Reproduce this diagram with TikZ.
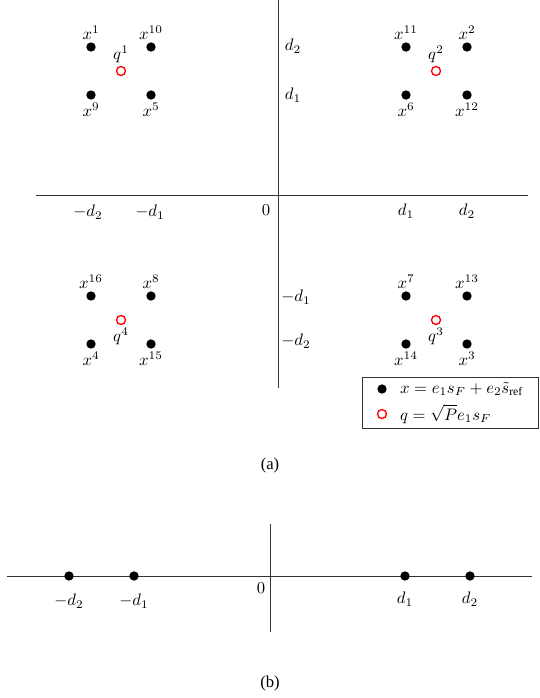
\documentclass[tikz,border=0pt]{standalone}
\usepackage{fontspec}
\setmainfont{Liberation Serif}
\usetikzlibrary{positioning}
\tikzset{
dot/.style={circle, fill=black, inner sep=0pt, minimum size=5.6pt},
refpt/.style={circle, draw=red, line width=0.8pt, inner sep=0pt, minimum size=5.4pt},
axis/.style={draw=black!80, line width=0.55pt},
lbl/.style={inner sep=1pt},
legendbox/.style={draw=black!80, line width=0.5pt},
legtext/.style={anchor=west, inner sep=1pt},
caption/.style={font=\rmfamily\fontsize{10}{12}\selectfont}
}

\begin{document}
\begin{tikzpicture}[x=0.6pt, y=-0.6pt, label distance=0.5pt]
\useasboundingbox (0,0) rectangle (539,698);
% (a) axes
\coordinate (hl) at (36,195);
\coordinate (hr) at (528,195);
\coordinate (vt) at (278,0);
\coordinate (vb) at (278,388);
\draw[axis] (hl) -- (hr);
\draw[axis] (vt) -- (vb);
\node (mdtwo) at (88,212) {$-d_2$};
\node (mdone) at (150,212) {$-d_1$};
\node (zero) at (266,210) {$0$};
\node (done) at (406,211) {$d_1$};
\node (dtwo) at (467,211) {$d_2$};
\node (vdtwo) at (293,46) {$d_2$};
\node (vdone) at (293,95) {$d_1$};
\node (vmdone) at (296,297) {$-d_1$};
\node (vmdtwo) at (296,341) {$-d_2$};
% top left
\node[dot, label={[lbl]above:$x^{1}$}] (x1) at (91,47) {};
\node[dot, label={[lbl]above:$x^{10}$}] (x10) at (151,47) {};
\node[dot, label={[lbl]below:$x^{9}$}] (x9) at (91,95) {};
\node[dot, label={[lbl]below:$x^{5}$}] (x5) at (151,95) {};
\node[refpt, label={[lbl]above:$q^{1}$}] (q1) at (121,71) {};
% top right
\node[dot, label={[lbl]above:$x^{11}$}] (x11) at (406,47) {};
\node[dot, label={[lbl]above:$x^{2}$}] (x2) at (467,47) {};
\node[dot, label={[lbl]below:$x^{6}$}] (x6) at (406,95) {};
\node[dot, label={[lbl]below:$x^{12}$}] (x12) at (467,95) {};
\node[refpt, label={[lbl]above:$q^{2}$}] (q2) at (436,71) {};
% bottom left
\node[dot, label={[lbl]above:$x^{16}$}] (x16) at (91,296) {};
\node[dot, label={[lbl]above:$x^{8}$}] (x8) at (151,296) {};
\node[dot, label={[lbl]below:$x^{4}$}] (x4) at (91,344) {};
\node[dot, label={[lbl]below:$x^{15}$}] (x15) at (151,344) {};
\node[refpt, label={[lbl]below:$q^{4}$}] (q4) at (121,320) {};
% bottom right
\node[dot, label={[lbl]above:$x^{7}$}] (x7) at (406,296) {};
\node[dot, label={[lbl]above:$x^{13}$}] (x13) at (467,296) {};
\node[dot, label={[lbl]below:$x^{14}$}] (x14) at (406,344) {};
\node[dot, label={[lbl]below:$x^{3}$}] (x3) at (467,344) {};
\node[refpt, label={[lbl]below:$q^{3}$}] (q3) at (436,320) {};
% legend
\coordinate (lgnw) at (362,377);
\coordinate (lgse) at (538,428);
\draw[legendbox] (lgnw) rectangle (lgse);
\node[dot] (ldot) at (382,389) {};
\node[legtext] (ltx) at (398,389) {$x = e_1 s_F + e_2\tilde{s}_{\mathrm{ref}}$};
\node[refpt] (lref) at (382,414) {};
\node[legtext] (ltq) at (398,414) {$q = \sqrt{P} e_1 s_F$};
\node[caption] (capa) at (270,465) {(a)};
% (b) real line
\coordinate (bl) at (7,576);
\coordinate (br) at (532,576);
\coordinate (bt) at (270,524);
\coordinate (bb) at (270,632);
\draw[axis] (bl) -- (br);
\draw[axis] (bt) -- (bb);
\node[dot] (pmdtwo) at (69,576) {};
\node[dot] (pmdone) at (134,576) {};
\node[dot] (pdone) at (405,576) {};
\node[dot] (pdtwo) at (470,576) {};
\node (bmdtwo) at (69,601) {$-d_2$};
\node (bmdone) at (134,601) {$-d_1$};
\node (bzero) at (261,588) {$0$};
\node (bdone) at (405,599) {$d_1$};
\node (bdtwo) at (470,599) {$d_2$};
\node[caption] (capb) at (270,683) {(b)};
\end{tikzpicture}
\end{document}
